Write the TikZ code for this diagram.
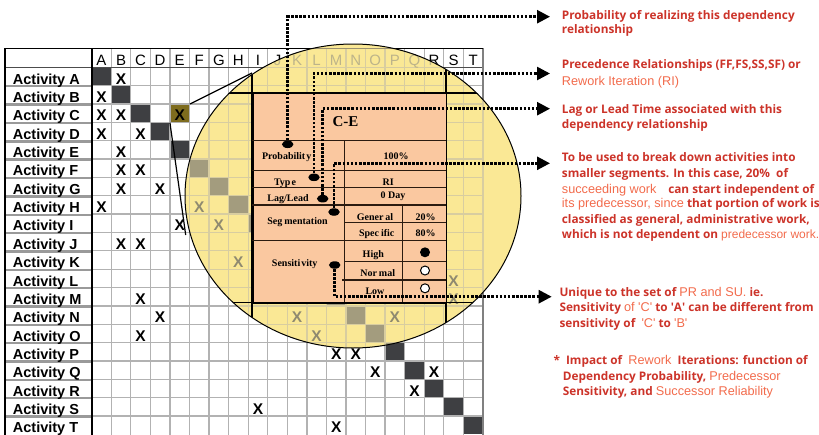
\documentclass[tikz,border=0pt]{standalone}
\usepackage{fontspec}
\setmainfont{Liberation Sans}
\newfontfamily\tablefont{Liberation Serif}
\newfontfamily\notefont{Open Sans}
\newfontfamily\softfam{Liberation Sans}
\usetikzlibrary{arrows.meta,shapes.geometric}

\definecolor{gridgrey}{HTML}{B2B2B2}
\definecolor{sepgrey}{HTML}{9A9A9A}
\definecolor{cellgrey}{HTML}{3E3F42}
\definecolor{olive}{HTML}{7E6C1E}
\definecolor{lensyellow}{HTML}{FAE895}
\definecolor{lensline}{HTML}{D8CDA0}
\definecolor{lenscell}{HTML}{A39C7E}
\definecolor{lensmark}{HTML}{8F8A70}
\definecolor{lenshead}{HTML}{BDB48A}
\definecolor{lenstop}{HTML}{9A9070}
\definecolor{peach}{HTML}{FAC8A0}
\definecolor{tabline}{HTML}{2B1B10}
\definecolor{notered}{HTML}{CC3329}
\definecolor{notesoft}{HTML}{F26B4C}

% grid geometry (left/top of the activity matrix, cell size)
\def\gx{91.7}
\def\cw{19.56}
\def\gy{67.3}
\def\rh{18.35}
\def\gtop{48.3}
\def\gright{482.9}
\def\gbot{437.3}

% one copy of the dependency matrix; #1 prefixes the node names
\newcommand{\matrixlayer}[1]{%
  \foreach \k in {0,...,19}
    \fill[diagcell] ({\gx+\cw*\k},{\gy+\rh*\k}) rectangle ++(\cw,\rh);
  \foreach \k in {0,...,20}
    \draw[gridline] ({\gx+\cw*\k},\gtop) -- ({\gx+\cw*\k},\gbot);
  \foreach \k in {1,...,19}
    \draw[gridline] (\gx,{\gy+\rh*\k}) -- (\gright,{\gy+\rh*\k});
  \draw[headrule] (\gx,\gy) -- (\gright,\gy);
  \draw[topline] (\gx,\gtop) -- (\gright,\gtop);
  \draw[rightline] (\gright,\gtop) -- (\gright,\gbot);
  \foreach \L [count=\k from 0] in {A,...,T}
    \node[colhead] (#1col\L) at ({\gx+\cw*(\k+0.5)},{\gy-1.4}) {\L};
  \foreach \r/\c in {0/1,1/0,2/0,2/1,2/4,3/0,3/2,4/1,5/1,5/2,6/1,6/3,7/0,7/5,
                     8/4,8/6,9/1,9/2,10/7,11/18,12/2,12/18,13/3,13/10,13/15,
                     14/2,14/11,15/12,15/13,16/14,16/17,17/16,18/8,19/12}
    \node[xmark] (#1mark\r-\c) at ({\gx+\cw*(\c+0.5)},{\gy+\rh*(\r+1)-1.5}) {X};
}

\newcommand{\softtxt}[1]{{\softfam\mdseries\fontsize{12.7}{15}\selectfont\color{notesoft}#1}}

\begin{document}
\begin{tikzpicture}[x=1pt,y=-1pt,
  diagcell/.style={fill=cellgrey},
  gridline/.style={draw=gridgrey,line width=1.3pt},
  headrule/.style={draw=black!70,line width=1.3pt},
  topline/.style={draw=black,line width=1.6pt},
  rightline/.style={draw=gray,line width=2pt},
  sepline/.style={draw=sepgrey,line width=2.4pt},
  colhead/.style={anchor=base,inner sep=0,font=\fontsize{15}{15}\selectfont},
  rowhead/.style={anchor=base west,inner sep=0,font=\bfseries\fontsize{14.5}{15}\selectfont},
  xmark/.style={anchor=base,inner sep=0,font=\bfseries\fontsize{15.5}{15}\selectfont},
  celltext/.style={anchor=base,inner sep=0,font=\tablefont\bfseries\fontsize{10}{12}\selectfont},
  tabrule/.style={draw=tabline,line width=1.3pt},
  frame/.style={draw=black,line width=1.6pt},
  dot/.style={ellipse,fill=black,inner sep=0,minimum width=11.5pt,minimum height=7.5pt},
  leader/.style={line width=2.6pt,dash pattern=on 2.6pt off 1.5pt,
                 -{Triangle[length=13pt,width=13pt]}},
  note/.style={anchor=base west,inner sep=0,text=notered,
               font=\notefont\bfseries\fontsize{11.8}{15}\selectfont}]
\useasboundingbox (0,0) rectangle (819,434);

% ---------- activity matrix ----------
\fill[white] (5,\gtop) rectangle (\gright,\gbot);
\node[fill=olive,inner sep=0,minimum width=19.56pt,minimum height=18.35pt,
      anchor=north west] (ceCell) at ({\gx+\cw*4},{\gy+\rh*2}) {};
\foreach \k in {1,...,19}
  \draw[sepline] (5,{\gy+\rh*\k+0.6}) -- (\gx,{\gy+\rh*\k+0.6});
\draw[headrule] (5,\gy) -- (\gx,\gy);
\matrixlayer{}
\foreach \L [count=\k from 0] in {A,...,T}
  \node[rowhead] (act\L) at (12.7,{\gy+\rh*(\k+1)-1.5}) {Activity \L};
\draw[black,line width=1.6pt] (5,\gbot) -- (5,\gtop) -- (\gright,\gtop);
\draw[black,line width=2pt] (\gx,\gtop) -- (\gx,\gbot);

% ---------- magnifying lens ----------
\coordinate (lensTop) at (252,73);
\coordinate (lensSide) at (185.7,235);
\begin{scope}[diagcell/.append style={fill=lenscell},
              gridline/.append style={draw=lensline},
              headrule/.append style={draw=lensline},
              topline/.append style={draw=lenstop},
              rightline/.append style={draw=lensline},
              colhead/.append style={text=lenshead},
              xmark/.append style={text=lensmark}]
  \clip (353,196) ellipse [x radius=168pt,y radius=152pt];
  \fill[lensyellow] (353,196) ellipse [x radius=168pt,y radius=152pt];
  \matrixlayer{lens}
  % frame of the zoomed cell, running out to the lens rim
  \draw[frame] (0,92.7) -- (819,92.7);
  \draw[frame] (0,302.3) -- (819,302.3);
  \draw[frame] (252,0) -- (252,434);
  \draw[frame] (445.7,0) -- (445.7,434);
\end{scope}
\draw[black,line width=1pt] (353,196) ellipse [x radius=168pt,y radius=152pt];
\draw[black,line width=1.2pt] (ceCell.north east) -- (lensTop);
\draw[black,line width=1.2pt] (ceCell.south west) -- (lensSide);

% ---------- dependency attributes of cell C-E ----------
\node[fill=peach,draw=black,line width=1.6pt,inner sep=0,minimum width=193.7pt,
      minimum height=209.6pt,anchor=north west] (ceTable) at (252,92.7) {};
\draw[tabrule] (252,140.7) -- (445.7,140.7);
\draw[tabrule] (252,170.7) -- (445.7,170.7);
\draw[tabrule] (252,187.7) -- (445.7,187.7);
\draw[tabrule] (252,205) -- (445.7,205);
\draw[tabrule] (252,240.7) -- (445.7,240.7);
\draw[tabrule] (344.5,140.7) -- (344.5,302.3);
\draw[tabrule] (402.3,205) -- (402.3,302.3);
\draw[tabrule] (344.5,222.3) -- (445.7,222.3);
\draw[tabrule] (344.5,261.7) -- (445.7,261.7);
\draw[tabrule] (342,280) -- (445.7,280);

\node[celltext,font=\tablefont\bfseries\fontsize{15}{15}\selectfont] (tTitle) at (345.5,126) {C-E};
\node[celltext] (tProb) at (286.7,159.5) {Probabilit\kern1pt y};
\node[celltext] (vProb) at (396,159.3) {100\%};
\node[celltext] (tType) at (285,185) {Typ\kern1pt e};
\node[celltext] (vType) at (388.3,185.7) {RI};
\node[celltext] (tLag) at (288,201.7) {Lag/Lead};
\node[celltext] (vLag) at (393,198.7) {0 Day};
\node[celltext] (tSeg) at (297.5,224) {Seg\kern2pt mentation};
\node[celltext] (tGen) at (375,220) {Gener\kern2pt al};
\node[celltext] (vGen) at (425.7,220) {20\%};
\node[celltext] (tSpec) at (376.7,236.7) {Spec\kern2pt ific};
\node[celltext] (vSpec) at (425.7,236.7) {80\%};
\node[celltext] (tSens) at (294.7,266.7) {Sensiti\kern1pt vity};
\node[celltext] (tHigh) at (373.3,257.3) {High};
\node[celltext] (tNorm) at (377.7,276) {Nor\kern2pt mal};
\node[celltext] (tLow) at (375,294.3) {Low};
\node[circle,fill=black,inner sep=0,minimum size=10pt] (sHigh) at (425,252.3) {};
\node[circle,draw=black,fill=white,line width=1pt,inner sep=0,minimum size=9pt] (sNorm) at (425,270.5) {};
\node[circle,draw=black,fill=white,line width=1pt,inner sep=0,minimum size=9pt] (sLow) at (425,288.3) {};

% ---------- callouts ----------
\node[dot] (dProb) at (287.7,144.3) {};
\node[dot] (dType) at (314,177.3) {};
\node[dot] (dLag) at (322.7,198.7) {};
\node[dot] (dSeg) at (334,212) {};
\node[dot] (dSens) at (334.7,265) {};
\coordinate (tipProb) at (550,16.7);
\coordinate (tipType) at (550,73.5);
\coordinate (tipLag) at (550,108.7);
\coordinate (tipSeg) at (550,163.3);
\coordinate (tipSens) at (551.7,296.7);
\draw[leader] (dProb) |- (tipProb);
\draw[leader] (dType) |- (tipType);
\draw[leader] (dLag) |- (tipLag);
\draw[leader] (dSeg) |- (tipSeg);
\draw[leader] (dSens) |- (tipSens);

% ---------- notes ----------
\node[note] (n1a) at (561.7,19) {Probability of realizing this dependency};
\node[note] (n1b) at (561.7,33.5) {relationship};
\node[note] (n2a) at (561.7,68) {Precedence Relationships (FF,FS,SS,SF) or};
\node[note] (n2b) at (561.7,85) {\softtxt{Rework Iteration (RI)}};
\node[note] (n3a) at (561.7,113) {Lag or Lead Time associated with this};
\node[note] (n3b) at (561.7,128.5) {dependency relationship};
\node[note] (n4a) at (561.7,161.5) {To be used to break down activities into};
\node[note] (n4b) at (561.7,177) {smaller segments. In this case, 20\%\ \ of};
\node[note] (n4c) at (561.7,193) {\softtxt{succeeding work}\quad can start independent of};
\node[note] (n4d) at (561.7,207.5) {\softtxt{its predecessor, since} that portion of work is};
\node[note] (n4e) at (561.7,223.5) {classified as general, administrative work,};
\node[note] (n4f) at (561.7,238.5) {which is not dependent on {\softfam\mdseries\fontsize{12}{15}\selectfont\color{notesoft}predecessor work.}};
\node[note] (n5a) at (559.3,296.5) {Unique to the set of \softtxt{PR and SU.} ie.};
\node[note] (n5b) at (559.3,311) {Sensitivity \softtxt{of \textquotesingle C\textquotesingle} to \textquotesingle A\textquotesingle\ can be different from};
\node[note] (n5c) at (559.3,327) {sensitivity of \ \softtxt{\textquotesingle C\textquotesingle} to \softtxt{\textquotesingle B\textquotesingle}};
\node[note] (n6a) at (553.3,364.5) {*\ \ Impact of \ \softtxt{Rework}\ \ Iterations: function of};
\node[note] (n6b) at (562.7,380.5) {Dependency Probability, \softtxt{Predecessor}};
\node[note] (n6c) at (562.7,395.5) {Sensitivity, and \softtxt{Successor Reliability}};
\end{tikzpicture}
\end{document}
